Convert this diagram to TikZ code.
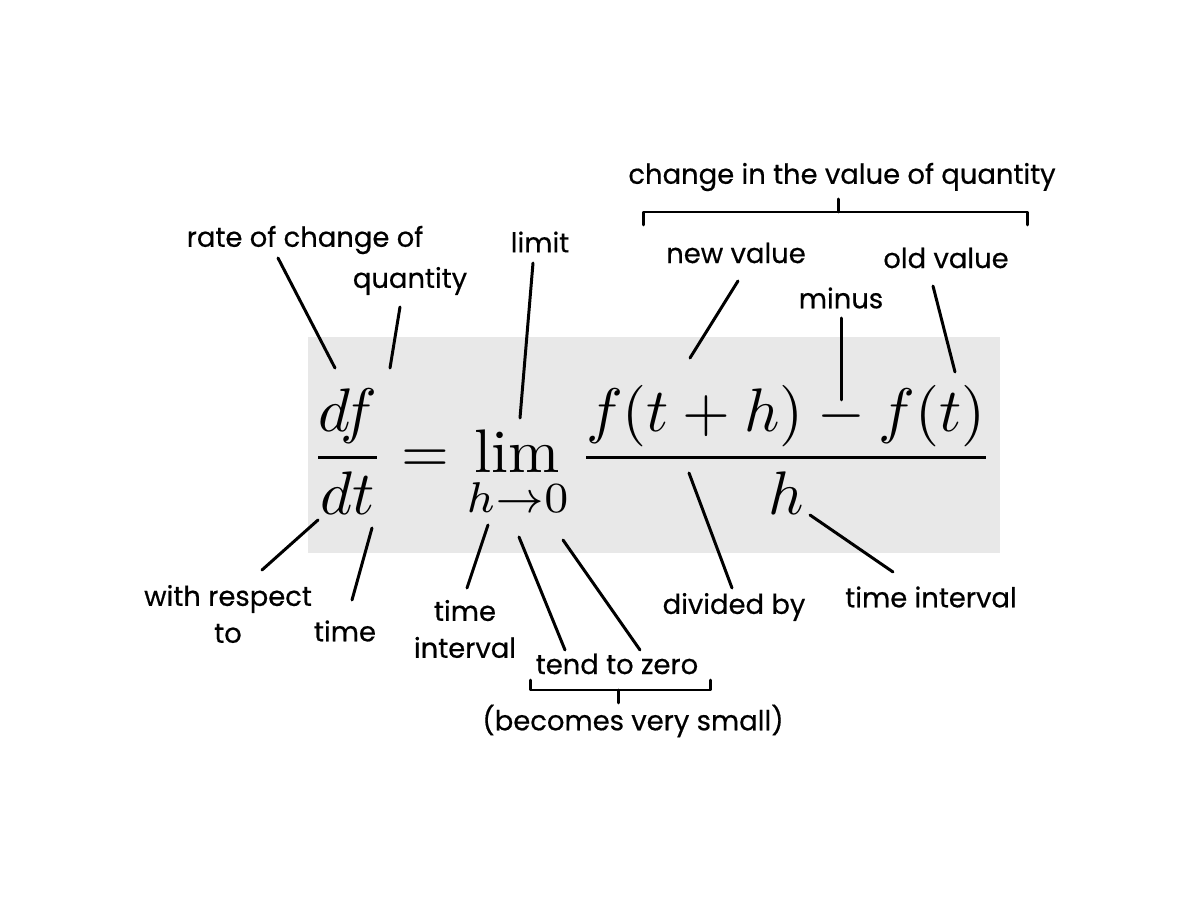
\documentclass[tikz,border=0pt]{standalone}
\usepackage{amsmath}
\usepackage{fontspec}
\setsansfont{Poppins}[FakeBold=0.5,BoldFont={Poppins},BoldFeatures={FakeBold=0.5}]
\usetikzlibrary{calc}
\definecolor{boxgray}{HTML}{E8E8E8}
\begin{document}
\begin{tikzpicture}[x=0.02cm,y=-0.02cm,
        lbl/.style={font=\sffamily\bfseries\fontsize{15.6}{21}\selectfont,align=center,inner sep=0pt},
        ptr/.style={line width=1.7pt,line cap=round,line join=round}]

        \useasboundingbox (0,0) rectangle (1200,911);
        \fill[boxgray] (308,337) rectangle (1000,553);

        % the formula
        \node[scale=3.5,inner sep=0pt] (eq) at (652,452)
            {$\displaystyle \frac{df}{dt}=\lim_{h\to 0}\frac{f(t+h)-f(t)}{h}$};

        % labels
        \node[lbl] (rate) at (305,240) {rate of change of};
        \node[lbl] (qty) at (410,281) {quantity};
        \node[lbl] (lim) at (540,242) {limit};
        \node[lbl] (chg) at (842,177) {change in the value of quantity};
        \node[lbl] (new) at (736,253) {new value};
        \node[lbl] (old) at (946,258) {old value};
        \node[lbl] (minus) at (841,298) {minus};
        \node[lbl] (wrt) at (228,614) {with respect\\to};
        \node[lbl] (time) at (345,631) {time};
        \node[lbl] (ivl) at (465,629) {time\\interval};
        \node[lbl] (tend) at (617,664) {tend to zero};
        \node[lbl] (small) at (633,721) {(becomes very small)};
        \node[lbl] (div) at (734,607) {divided by};
        \node[lbl] (hivl) at (931,597) {time interval};

        % pointer ends
        \coordinate (a1) at (278,258); \coordinate (b1) at (335,368);
        \coordinate (a2) at (400,307); \coordinate (b2) at (390,368);
        \coordinate (a3) at (533,263); \coordinate (b3) at (520,418);
        \coordinate (a4) at (738,281); \coordinate (b4) at (690,358);
        \coordinate (a5) at (933,286); \coordinate (b5) at (955,372);
        \coordinate (a6) at (841,318); \coordinate (b6) at (841,400);
        \coordinate (a7) at (318,520); \coordinate (b7) at (262,570);
        \coordinate (a8) at (372,528); \coordinate (b8) at (352,600);
        \coordinate (a9) at (488,525); \coordinate (b9) at (467,588);
        \coordinate (a10) at (519,537); \coordinate (b10) at (565,650);
        \coordinate (a11) at (563,540); \coordinate (b11) at (640,650);
        \coordinate (a12) at (689,473); \coordinate (b12) at (732,588);
        \coordinate (a13) at (810,515); \coordinate (b13) at (893,572);

        \foreach \i in {1,...,13}
            \draw[ptr] (a\i) -- (b\i);

        % braces
        \draw[ptr] (643,225) -- (643,212) -- (1027,212) -- (1027,225);
        \draw[ptr] (838,199) -- (838,212);
        \draw[ptr] (530,680) -- (530,690) -- (710,690) -- (710,680);
        \draw[ptr] (618,690) -- (618,703);

    \end{tikzpicture}
\end{document}
